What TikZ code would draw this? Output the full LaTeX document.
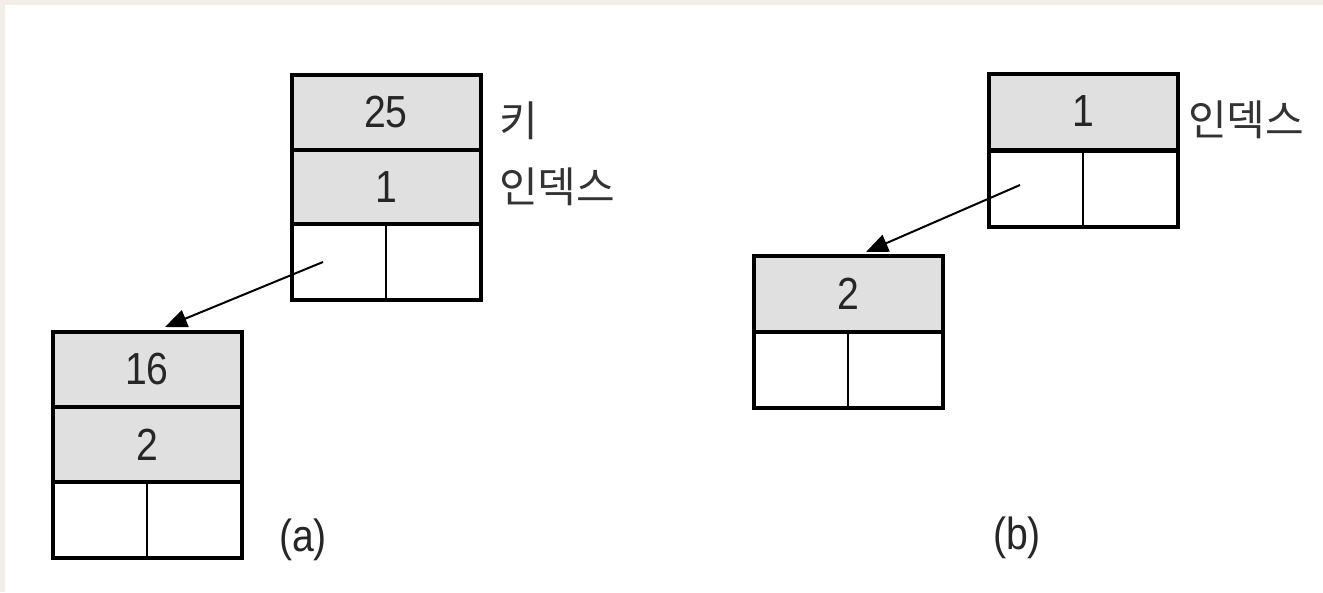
\documentclass[tikz,border=0pt]{standalone}
\usepackage{fontspec}
\setmainfont{Liberation Sans}
\newfontfamily\krfont{Noto Sans CJK KR}
\usetikzlibrary{arrows.meta}
\definecolor{cellgray}{HTML}{E0E0E0}
\definecolor{edgebeige}{HTML}{F2EDE6}
\newcommand{\dg}[1]{\scalebox{0.87}[1]{\fontsize{45}{45}\selectfont #1}}
\begin{document}
\begin{tikzpicture}[x=1pt,y=-1pt,
  cell/.style={draw=black, line width=4pt, minimum width=189pt, minimum height=76pt, inner sep=0pt, outer sep=0pt, text=black!85},
  keycell/.style={cell, fill=cellgray},
  ptrcell/.style={cell, fill=white},
  divider/.style={line width=2.2pt},
  ptr/.style={line width=2pt, -{Triangle[length=22pt,width=18pt]}},
  lbl/.style={anchor=west, inner sep=0pt, text=black!80, font=\krfont\fontsize{42}{42}\selectfont},
  caplbl/.style={inner sep=0pt, text=black!85}
]
% background with beige strip top and left
\fill[edgebeige] (0,0) rectangle (1323,592);
\fill[white] (5,5) rectangle (1323,592);
\useasboundingbox (0,0) rectangle (1323,592);

% ---------- (a) ----------
\node[keycell] (a1k) at (386,112.5) {\dg{25}};
\node[keycell] (a1i) at (386,187.5) {\dg{1}};
\node[ptrcell] (a1p) at (386,262) {};
\draw[divider] (a1p.north) -- (a1p.south);
\node[lbl] (a1kl) at (499,121) {키};
\node[lbl] (a1il) at (499,187) {인덱스};

\node[keycell] (a2k) at (147,369.5) {\dg{16}};
\node[keycell] (a2i) at (147,444.5) {\dg{2}};
\node[ptrcell] (a2p) at (147,519.5) {};
\draw[divider] (a2p.north) -- (a2p.south);

\coordinate (a1s) at (323,262);
\coordinate (a2t) at (165,327);
\draw[ptr] (a1s) -- (a2t);

\node[caplbl] (capa) at (303,540) {\dg{(a)}};

% ---------- (b) ----------
\node[keycell] (b1i) at (1083,111.5) {\dg{1}};
\node[ptrcell] (b1p) at (1083,188.5) {};
\draw[divider] (b1p.north) -- (b1p.south);
\node[lbl] (b1il) at (1188,120) {인덱스};

\node[keycell] (b2i) at (848,294) {\dg{2}};
\node[ptrcell] (b2p) at (848,370) {};
\draw[divider] (b2p.north) -- (b2p.south);

\coordinate (b1s) at (1020,185);
\coordinate (b2t) at (866,252);
\draw[ptr] (b1s) -- (b2t);

\node[caplbl] (capb) at (1017,538) {\dg{(b)}};
\end{tikzpicture}
\end{document}
